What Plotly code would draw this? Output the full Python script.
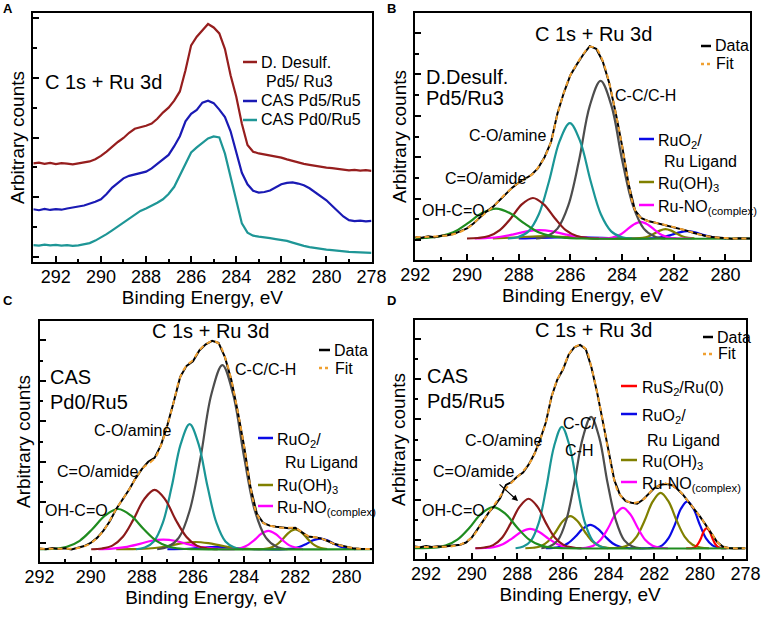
import plotly.graph_objects as go

W, H = 766, 617
FONT = "Liberation Sans, Arial, sans-serif"

# ---------------- Panel A : stacked spectra ----------------
be_a = [293 - 0.25 * i for i in range(61)]
desulf_a = [39.6, 39.9, 39.4, 39.8, 39.3, 39.7, 39.5, 39.2, 39.6, 39.9, 40.4, 41.3, 42.6, 44.3, 46.3, 48.2,
            49.8, 51.9, 53.5, 54.0, 54.7, 55.6, 57.5, 60.0, 62.0, 64.8, 68.5, 77.0, 87.0, 90.5, 93.2, 95.6,
            94.2, 91.8, 85.5, 75.0, 66.5, 55.5, 47.0, 44.3, 43.6, 43.2, 43.0, 42.4, 41.9, 41.2, 40.5, 39.9,
            39.4, 39.0, 38.6, 38.3, 37.9, 37.7, 37.3, 37.1, 36.8, 37.0, 36.7, 36.9, 36.6]
cas55_a = [21.2, 20.8, 21.3, 20.9, 21.2, 21.0, 21.5, 21.8, 22.3, 22.7, 23.4, 24.2, 25.2, 27.3, 29.9, 31.8,
           33.6, 34.6, 35.2, 35.8, 36.3, 37.6, 39.3, 41.0, 43.0, 46.5, 50.5, 56.5, 59.5, 61.1, 64.0, 64.8,
           63.8, 61.2, 58.2, 52.5, 43.8, 35.8, 31.2, 28.6, 27.9, 28.1, 28.7, 29.8, 31.2, 31.8, 32.0, 31.5,
           30.8, 29.6, 28.0, 26.3, 24.8, 22.6, 20.3, 18.3, 16.8, 16.4, 16.6, 16.3, 16.5]
cas05_a = [6.8, 6.6, 7.0, 6.7, 6.9, 6.6, 6.8, 6.5, 6.7, 7.0, 7.6, 8.6, 9.8, 11.2, 12.7, 14.3, 15.9, 17.4,
           19.0, 20.5, 21.5, 22.6, 23.8, 25.2, 27.3, 30.2, 34.8, 40.0, 44.0, 46.0, 47.8, 49.6, 50.4, 50.0,
           43.5, 34.0, 23.8, 15.5, 11.8, 10.6, 10.2, 10.0, 9.6, 9.2, 9.0, 8.5, 7.8, 7.0, 6.5, 6.0, 5.6, 5.3,
           5.0, 4.8, 4.5, 4.3, 4.1, 4.0, 3.9, 3.8, 3.7]

# ---------------- Panel B : D.Desulf. Pd5/Ru3 ----------------
be_b = [292 - 0.25 * i for i in range(53)]
data_b = [9.3, 9.0, 9.6, 9.2, 9.8, 10.0, 10.6, 11.6, 12.8, 14.8, 17.2, 19.6, 21.5, 24.0, 26.8, 29.3, 31.3,
          33.0, 34.5, 37.2, 41.6, 47.7, 59.3, 67.8, 74.8, 79.2, 83.2, 86.6, 85.5, 80.5, 71.8, 59.7, 46.3,
          30.9, 20.1, 16.9, 15.8, 15.2, 14.6, 14.0, 13.3, 12.6, 11.9, 11.0, 10.3, 9.7, 9.3, 9.0, 8.9, 8.6,
          8.8, 8.7, 8.7]
fit_be_b = [292, 291.5, 291, 290.5, 290, 289.5, 289, 288.5, 288, 287.5, 287.25, 287, 286.75, 286.5, 286.25,
            286, 285.75, 285.5, 285.25, 285, 284.75, 284.5, 284.25, 284, 283.75, 283.5, 283.25, 283, 282.5,
            282, 281.5, 281, 280.5, 280, 279.5, 279]
fit_b = [9.2, 9.4, 9.7, 10.5, 12.8, 17.2, 21.5, 26.8, 31.3, 34.5, 37.4, 41.6, 47.9, 59.0, 67.8, 74.8, 79.3,
         83.4, 86.3, 85.6, 80.6, 71.8, 59.7, 46.3, 31.2, 20.3, 16.9, 15.8, 14.6, 13.3, 11.9, 10.3, 9.3, 8.9,
         8.7, 8.7]
gray_b_be = [287.33, 286.92, 286.5, 286.08, 285.66, 285.25, 284.83, 284.41, 284.0, 283.58, 283.16, 282.74, 282.33]
gray_b = [8.7, 9.5, 12.7, 22.1, 40.6, 62.4, 72.5, 62.4, 40.6, 22.1, 12.7, 9.5, 8.7]
teal_b_be = [288.42, 288.02, 287.62, 287.22, 286.82, 286.42, 286.02, 285.62, 285.22, 284.82, 284.42, 284.02, 283.62]
teal_b = [8.7, 9.3, 11.6, 18.5, 32.1, 48.0, 55.4, 48.0, 32.1, 18.5, 11.6, 9.3, 8.7]
brown_b_be = [290.0, 289.58, 289.15, 288.73, 288.3, 287.88, 287.45, 287.03, 286.6, 286.18, 285.75, 285.33, 284.9]
brown_b = [8.7, 8.9, 9.7, 12.1, 16.9, 22.5, 25.1, 22.5, 16.9, 12.1, 9.7, 8.9, 8.7]
green_b_be = [292.2, 291.63, 291.08, 290.53, 289.98, 289.43, 288.88, 288.33, 287.78, 287.23, 286.68, 286.13, 285.58, 279]
green_b = [8.7, 8.9, 9.5, 11.2, 14.8, 18.9, 20.8, 18.9, 14.8, 11.2, 9.5, 8.9, 8.7, 8.7]
magenta_b_be = [289.7, 289.2, 288.7, 288.2, 287.7, 287.2, 286.7, 286.2, 285.7, 285.2, 284.66, 284.38, 284.1,
                283.83, 283.56, 283.28, 283.0, 282.73, 282.46, 282.18, 281.9, 281.3]
magenta_b = [8.7, 8.9, 9.4, 10.4, 11.6, 12.1, 11.6, 10.4, 9.4, 8.9, 8.8, 9.1, 10.1, 12.1, 14.3, 15.4, 14.3,
             12.1, 10.1, 9.1, 8.8, 8.7]
olive_b_be = [289.0, 288.0, 287.0, 286.0, 285.0, 283.45, 283.2, 282.99, 282.77, 282.54, 282.32, 282.1, 281.87,
              281.65, 281.43, 281.2]
olive_b = [8.7, 9.2, 9.7, 9.2, 8.75, 8.72, 8.95, 9.5, 10.6, 11.9, 12.5, 11.9, 10.6, 9.5, 8.95, 8.75]
blue_b_be = [288.0, 286.5, 285.5, 284.0, 282.98, 282.68, 282.38, 282.08, 281.78, 281.48, 281.18, 280.88, 280.58,
             280.28, 279.98]
blue_b = [8.7, 9.2, 9.2, 8.72, 8.75, 8.9, 9.35, 10.2, 11.2, 11.7, 11.2, 10.2, 9.35, 8.9, 8.75]

# ---------------- Panel C : CAS Pd0/Ru5 ----------------
be_c = [292 - 0.25 * i for i in range(53)]
data_c = [5.6, 5.3, 5.8, 5.4, 5.7, 5.2, 5.9, 6.6, 7.9, 10.0, 13.0, 16.9, 22.0, 26.0, 30.0, 34.6, 38.5, 41.6,
          43.2, 48.5, 56.8, 66.5, 76.8, 81.4, 83.3, 87.8, 90.3, 91.8, 90.9, 85.0, 75.5, 62.5, 48.0, 31.0,
          20.0, 16.2, 15.1, 14.6, 14.2, 14.0, 14.2, 12.3, 10.6, 10.3, 9.8, 8.8, 7.6, 7.0, 6.3, 5.7, 5.5,
          5.6, 5.4]
fit_be_c = fit_be_b
fit_c = [5.5, 5.5, 5.5, 5.8, 7.8, 13.0, 22.0, 30.0, 38.5, 43.0, 48.4, 56.8, 66.5, 76.6, 81.5, 83.8, 87.8,
         90.3, 91.6, 90.7, 85.0, 75.5, 62.5, 48.0, 31.0, 20.0, 16.2, 15.1, 14.2, 14.0, 10.8, 9.8, 7.6, 6.3,
         5.5, 5.4]
gray_c_be = [287.4, 286.98, 286.55, 286.13, 285.7, 285.28, 284.85, 284.43, 284.0, 283.58, 283.15, 282.73, 282.3]
gray_c = [5.3, 6.3, 10.1, 21.3, 43.5, 69.6, 81.7, 69.6, 43.5, 21.3, 10.1, 6.3, 5.3]
teal_c_be = [288.23, 287.88, 287.53, 287.18, 286.83, 286.48, 286.13, 285.78, 285.43, 285.08, 284.73, 284.38, 284.03]
teal_c = [5.3, 6.0, 8.5, 16.2, 31.3, 48.9, 57.2, 48.9, 31.3, 16.2, 8.5, 6.0, 5.3]
brown_c_be = [289.98, 289.56, 289.15, 288.74, 288.33, 287.91, 287.5, 287.09, 286.68, 286.26, 285.85, 285.44, 285.03]
brown_c = [5.3, 5.6, 6.8, 10.5, 17.6, 26.0, 29.9, 26.0, 17.6, 10.5, 6.8, 5.6, 5.3]
green_c_be = [292.0, 291.43, 290.93, 290.43, 289.93, 289.43, 288.93, 288.43, 287.93, 287.43, 286.93, 286.43, 285.93, 279]
green_c = [5.3, 5.5, 6.3, 8.8, 13.7, 19.3, 22.0, 19.3, 13.7, 8.8, 6.3, 5.5, 5.3, 5.3]
magenta_c_be = [289.7, 289.16, 288.66, 288.16, 287.66, 287.16, 286.66, 286.16, 285.66, 285.16, 284.4, 284.1,
                283.88, 283.6, 283.33, 283.05, 282.78, 282.5, 282.23, 281.95, 281.7]
magenta_c = [5.3, 5.55, 6.15, 7.3, 8.7, 9.3, 8.7, 7.3, 6.15, 5.55, 5.35, 5.9, 6.9, 9.1, 11.7, 12.9, 11.7, 9.1,
             6.9, 5.9, 5.35]
olive_c_be = [289.0, 288.4, 287.9, 287.4, 286.9, 286.4, 285.9, 285.4, 284.9, 284.4, 283.9, 283.25, 283.0,
              282.75, 282.5, 282.25, 282.0, 281.75, 281.5, 281.25, 281.0, 280.75]
olive_c = [5.3, 5.35, 5.5, 5.9, 6.8, 7.8, 8.3, 7.8, 6.8, 5.9, 5.5, 5.4, 5.8, 7.0, 9.4, 12.2, 13.5, 12.2, 9.4,
           7.0, 5.8, 5.4]
blue_c_be = [287.0, 286.2, 285.6, 285.1, 284.6, 284.0, 283.3, 282.4, 282.1, 281.85, 281.57, 281.3, 281.02,
             280.75, 280.47, 280.2, 279.92, 279.65]
blue_c = [5.3, 5.5, 6.0, 6.3, 6.0, 5.5, 5.3, 5.35, 5.6, 6.2, 7.5, 9.0, 9.7, 9.0, 7.5, 6.2, 5.6, 5.35]

# ---------------- Panel D : CAS Pd5/Ru5 ----------------
be_d = [292.5 - 0.25 * i for i in range(59)]
data_d = [5.2, 4.9, 5.4, 5.0, 5.3, 5.1, 5.4, 5.6, 6.0, 6.9, 9.0, 12.4, 16.0, 19.5, 22.2, 25.5, 31.0, 32.2,
          34.5, 36.2, 39.6, 44.0, 50.0, 57.2, 68.0, 75.0, 79.3, 85.5, 88.6, 89.6, 87.8, 80.0, 69.5, 57.5,
          44.5, 33.0, 26.8, 24.2, 23.5, 23.1, 24.8, 27.0, 29.6, 31.0, 31.5, 31.0, 29.4, 27.0, 24.0, 21.2,
          17.8, 14.4, 11.0, 7.2, 5.2, 4.6, 4.4, 4.6, 4.5]
fit_be_d = [292.5, 292, 291.5, 291, 290.5, 290, 289.5, 289, 288.5, 288, 287.5, 287.25, 287, 286.75, 286.5,
            286.25, 286, 285.75, 285.5, 285.25, 285, 284.75, 284.5, 284.25, 284, 283.75, 283.5, 283, 282.5,
            282, 281.5, 281, 280.5, 280, 279.75, 279.5, 279.25, 279, 278.5, 278]
fit_d = [5.0, 5.0, 5.1, 5.2, 6.0, 9.0, 16.0, 22.8, 29.5, 34.3, 39.6, 44.0, 50.0, 57.2, 67.8, 75.0, 79.6,
         85.5, 88.6, 89.4, 87.8, 80.0, 69.5, 57.5, 44.5, 33.0, 26.8, 23.5, 24.8, 29.6, 31.5, 29.4, 24.0,
         17.8, 14.4, 11.0, 7.4, 5.2, 4.5, 4.5]
gray_d_be = [286.95, 286.59, 286.22, 285.86, 285.5, 285.13, 284.77, 284.41, 284.05, 283.68, 283.32, 282.95, 282.59]
gray_d = [4.5, 5.2, 7.9, 16.1, 32.0, 50.8, 59.5, 50.8, 32.0, 16.1, 7.9, 5.2, 4.5]
teal_d_be = [288.08, 287.74, 287.4, 287.06, 286.73, 286.39, 286.05, 285.71, 285.37, 285.04, 284.7, 284.36, 284.03]
teal_d = [4.5, 5.2, 7.7, 15.2, 29.9, 47.2, 55.3, 47.2, 29.9, 15.2, 7.7, 5.2, 4.5]
brown_d_be = [289.84, 289.45, 289.06, 288.67, 288.29, 287.9, 287.51, 287.12, 286.74, 286.35, 285.96, 285.58, 285.19]
brown_d = [4.5, 4.8, 5.8, 8.9, 14.9, 21.9, 25.2, 21.9, 14.9, 8.9, 5.8, 4.8, 4.5]
green_d_be = [292.5, 291.68, 291.15, 290.63, 290.1, 289.58, 289.05, 288.53, 288.0, 287.48, 286.95, 286.43, 285.9, 278]
green_d = [4.5, 4.7, 5.6, 8.1, 13.1, 19.0, 21.7, 19.0, 13.1, 8.1, 5.6, 4.7, 4.5, 4.5]
magenta_d_be = [289.84, 289.44, 289.04, 288.64, 288.24, 287.84, 287.44, 287.04, 286.64, 286.24, 285.84, 285.44,
                285.0, 284.67, 284.35, 284.02, 283.7, 283.37, 283.05, 282.72, 282.4, 282.07, 281.75, 281.4]
magenta_d = [4.5, 4.6, 5.0, 6.2, 8.55, 11.3, 12.6, 11.3, 8.55, 6.2, 5.0, 4.6, 4.7, 5.56, 8.05, 12.95, 18.7,
             21.4, 18.7, 12.95, 8.05, 5.56, 4.7, 4.5]
olive_d_be = [287.65, 287.31, 286.98, 286.66, 286.33, 286.01, 285.68, 285.36, 285.03, 284.71, 284.38, 284.06,
              283.8, 283.47, 283.12, 282.77, 282.42, 282.07, 281.72, 281.37, 281.02, 280.67, 280.32, 279.97, 279.6]
olive_d = [4.5, 4.7, 5.3, 7.3, 11.2, 15.8, 17.9, 15.8, 11.2, 7.3, 5.3, 4.7, 4.6, 4.8, 5.95, 9.4, 16.1, 24.0,
           27.7, 24.0, 16.1, 9.4, 5.95, 4.8, 4.5]
blue_d_be = [286.75, 286.43, 286.1, 285.78, 285.45, 285.13, 284.8, 284.48, 284.15, 283.83, 283.5, 283.18,
             282.85, 282.3, 281.93, 281.65, 281.38, 281.1, 280.83, 280.55, 280.28, 280.0, 279.73, 279.45,
             279.18, 278.85]
blue_d = [4.5, 4.6, 5.1, 6.6, 9.4, 12.7, 14.3, 12.7, 9.4, 6.6, 5.1, 4.6, 4.5, 4.5, 4.75, 5.7, 8.6, 14.3, 21.0,
          24.1, 21.0, 14.3, 8.6, 5.7, 4.75, 4.5]
red_d_be = [280.6, 280.45, 280.33, 280.2, 280.08, 279.95, 279.83, 279.7, 279.58, 279.45, 279.33, 279.2,
            279.08, 278.95, 278.8]
red_d = [4.5, 4.5, 4.6, 5.0, 6.3, 8.7, 11.6, 12.9, 11.6, 8.7, 6.3, 5.0, 4.6, 4.5, 4.5]

# ---------------- colours ----------------
C_RED_A, C_BLUE_A, C_TEAL_A = "#961e1e", "#1a1ab4", "#1e9696"
C_GREEN, C_BROWN, C_TEAL, C_GRAY = "#1f8c1f", "#8c1a1a", "#1a9696", "#4d4d4d"
C_MAG, C_OLIVE, C_BLUE, C_RED, C_FIT = "#ff00ff", "#808000", "#0a0ae6", "#ff0000", "#f0a030"

fig = go.Figure()


def add(x, y, color, ax, name, width=2.2, dash=None, shape="spline"):
    fig.add_trace(go.Scatter(x=x, y=y, mode="lines", name=name, showlegend=False, hoverinfo="skip",
                             line=dict(color=color, width=width, dash=dash, shape=shape,
                                       smoothing=1.0 if shape == "spline" else None),
                             xaxis="x" + ax, yaxis="y" + ax))


# Panel A
add(be_a, desulf_a, C_RED_A, "", "D. Desulf. Pd5/ Ru3", shape="linear")
add(be_a, cas55_a, C_BLUE_A, "", "CAS Pd5/Ru5", shape="linear")
add(be_a, cas05_a, C_TEAL_A, "", "CAS Pd0/Ru5", shape="linear")


def panel(ax, comps, be, data, fbe, fit):
    for x, y, c, n in comps:
        add(x, y, c, ax, n)
    add(be, data, "black", ax, "Data", width=2, shape="linear")
    add(fbe, fit, C_FIT, ax, "Fit", width=2, dash="5px,4px")


panel("2", [(blue_b_be, blue_b, C_BLUE, "RuO2/Ru Ligand"), (olive_b_be, olive_b, C_OLIVE, "Ru(OH)3"),
            (magenta_b_be, magenta_b, C_MAG, "Ru-NO(complex)"), (gray_b_be, gray_b, C_GRAY, "C-C/C-H"),
            (teal_b_be, teal_b, C_TEAL, "C-O/amine"), (brown_b_be, brown_b, C_BROWN, "C=O/amide"),
            (green_b_be, green_b, C_GREEN, "OH-C=O")], be_b, data_b, fit_be_b, fit_b)
panel("3", [(blue_c_be, blue_c, C_BLUE, "RuO2/Ru Ligand"), (olive_c_be, olive_c, C_OLIVE, "Ru(OH)3"),
            (magenta_c_be, magenta_c, C_MAG, "Ru-NO(complex)"), (gray_c_be, gray_c, C_GRAY, "C-C/C-H"),
            (teal_c_be, teal_c, C_TEAL, "C-O/amine"), (brown_c_be, brown_c, C_BROWN, "C=O/amide"),
            (green_c_be, green_c, C_GREEN, "OH-C=O")], be_c, data_c, fit_be_c, fit_c)
panel("4", [(blue_d_be, blue_d, C_BLUE, "RuO2/Ru Ligand"), (olive_d_be, olive_d, C_OLIVE, "Ru(OH)3"),
            (magenta_d_be, magenta_d, C_MAG, "Ru-NO(complex)"), (red_d_be, red_d, C_RED, "RuS2/Ru(0)"),
            (gray_d_be, gray_d, C_GRAY, "C-C/C-H"), (teal_d_be, teal_d, C_TEAL, "C-O/amine"),
            (brown_d_be, brown_d, C_BROWN, "C=O/amide"), (green_d_be, green_d, C_GREEN, "OH-C=O")],
      be_d, data_d, fit_be_d, fit_d)


# ---------------- axes ----------------
def xa(dom, rng, anchor):
    return dict(domain=[dom[0] / W, dom[1] / W], range=rng, anchor=anchor, automargin=False, showline=True,
                linewidth=2, linecolor="black", mirror=True, ticks="inside", ticklen=6, tickwidth=1.5,
                tickcolor="black", dtick=2, tick0=0, showgrid=False, zeroline=False, ticklabelstandoff=-3,
                ticklabeloverflow="allow",
                minor=dict(ticks="inside", ticklen=3.5, dtick=1, tick0=0, tickwidth=1.5, tickcolor="black"),
                tickfont=dict(size=18, color="black", family=FONT),
                title=dict(text="Binding Energy, eV", font=dict(size=19, color="black", family=FONT), standoff=5))


def ya(dom, anchor, t0, dt):
    return dict(domain=[1 - dom[1] / H, 1 - dom[0] / H], range=[0, 100], anchor=anchor, automargin=False,
                showline=True, linewidth=2, linecolor="black", mirror=True, ticks="inside", ticklen=6,
                tickwidth=1.5, tickcolor="black", tick0=t0, dtick=dt, showticklabels=False, showgrid=False,
                zeroline=False,
                minor=dict(ticks="inside", ticklen=3.5, dtick=dt / 2, tick0=t0, tickwidth=1.5, tickcolor="black"),
                title=dict(text="Arbitrary counts", font=dict(size=19, color="black", family=FONT), standoff=2))


fig.update_layout(
    width=W, height=H, margin=dict(l=0, r=0, t=0, b=0, autoexpand=False), paper_bgcolor="white",
    plot_bgcolor="white", font=dict(family=FONT, color="black"),
    xaxis=xa((33.3, 371.5), [293, 278], "y"), yaxis=ya((13, 262), "x", 2, 24),
    xaxis2=xa((415.3, 750), [292, 279.05], "y2"), yaxis2=ya((13, 260), "x2", 8, 16.8),
    xaxis3=xa((39.5, 372), [292, 279], "y3"), yaxis3=ya((321, 562), "x3", 8, 16.8),
    xaxis4=xa((414.7, 745.5), [292.5, 278], "y4"), yaxis4=ya((320, 559), "x4", 8, 16.8),
)

# ---------------- texts & legend swatches ----------------
ann, shp = [], []


def txt(x, y, s, size=16, anchor="left", bold=False):
    ann.append(dict(xref="paper", yref="paper", x=x / W, y=1 - y / H, text=("<b>%s</b>" % s) if bold else s,
                    showarrow=False, xanchor=anchor, yanchor="middle",
                    font=dict(size=size, color="black", family=FONT)))


def sw(x0, x1, y, color, dash="solid"):
    shp.append(dict(type="line", xref="paper", yref="paper", x0=x0 / W, x1=x1 / W, y0=1 - y / H, y1=1 - y / H,
                    line=dict(color=color, width=2.5, dash=dash)))


for letter, (lx, ly) in zip("ABCD", [(8, 8), (391, 8), (8, 300), (391, 300)]):
    txt(lx, ly, letter, size=13, anchor="center", bold=True)

# A
txt(43, 82, "C 1s + Ru 3d", 20)
sw(243, 257, 62, C_RED_A); txt(259, 62, "D. Desulf.")
txt(264, 82, "Pd5/ Ru3")
sw(243, 257, 101, C_BLUE_A); txt(259, 101, "CAS Pd5/Ru5")
sw(243, 257, 120, C_TEAL_A); txt(259, 120, "CAS Pd0/Ru5")

SUB2 = "RuO<sub>2</sub>/"
SUB3 = "Ru(OH)<sub>3</sub>"
SUBC = "Ru-NO<sub>(complex)</sub>"

# B
txt(593, 34, "C 1s + Ru 3d", 20, "center")
txt(424, 77, "D.Desulf.", 20); txt(424, 98, "Pd5/Ru3", 20)
txt(613, 96, "C-C/C-H"); txt(548, 135, "C-O/amine", anchor="right")
txt(443, 179, "C=O/amide"); txt(420, 210, "OH-C=O")
sw(701, 711, 46, "black"); txt(713, 46, "Data")
sw(701, 712, 64, C_FIT, "3px,3px"); txt(714, 64, "Fit")
sw(639, 654, 139, C_BLUE); txt(656, 141, SUB2)
txt(662, 162, "Ru Ligand")
sw(639, 654, 182, C_OLIVE); txt(656, 184, SUB3)
sw(639, 654, 205, C_MAG); txt(656, 207, SUBC)

# C
txt(210, 331, "C 1s + Ru 3d", 20, "center")
txt(48, 377, "CAS", 20); txt(48, 402, "Pd0/Ru5", 20)
txt(233, 369, "C-C/C-H"); txt(92, 430, "C-O/amine")
txt(55, 471, "C=O/amide"); txt(43, 510, "OH-C=O")
sw(319, 330, 350, "black"); txt(332, 350, "Data")
sw(319, 330, 368, C_FIT, "3px,3px"); txt(333, 368, "Fit")
sw(258, 273, 438, C_BLUE); txt(275, 440, SUB2)
txt(283, 463, "Ru Ligand")
sw(258, 273, 485, C_OLIVE); txt(275, 487, SUB3)
sw(258, 273, 506, C_MAG); txt(275, 508, SUBC)

# D
txt(593, 330, "C 1s + Ru 3d", 20, "center")
txt(425, 376, "CAS", 20); txt(425, 401, "Pd5/Ru5", 20)
txt(561, 423, "C-C/"); txt(563, 451, "C-H")
txt(463, 440, "C-O/amine"); txt(431, 471, "C=O/amide"); txt(420, 510, "OH-C=O")
sw(703, 713, 337, "black"); txt(715, 337, "Data")
sw(703, 713, 354, C_FIT, "3px,3px"); txt(716, 354, "Fit")
sw(621, 637, 386, C_RED); txt(640, 388, "RuS<sub>2</sub>/Ru(0)")
sw(621, 637, 414, C_BLUE); txt(640, 416, SUB2)
txt(645, 440, "Ru Ligand")
sw(621, 637, 460, C_OLIVE); txt(640, 462, SUB3)
sw(621, 637, 482, C_MAG); txt(640, 484, SUBC)
ann.append(dict(xref="paper", yref="paper", x=518 / W, y=1 - 501 / H, ax=-20, ay=-18, text="",
                showarrow=True, arrowhead=2, arrowsize=1, arrowwidth=1.2, arrowcolor="black"))

fig.update_layout(annotations=ann, shapes=shp)
fig.write_html("out.html", config={"displayModeBar": False},
               post_script="document.body.style.margin='0px';document.body.style.padding='0px';")
